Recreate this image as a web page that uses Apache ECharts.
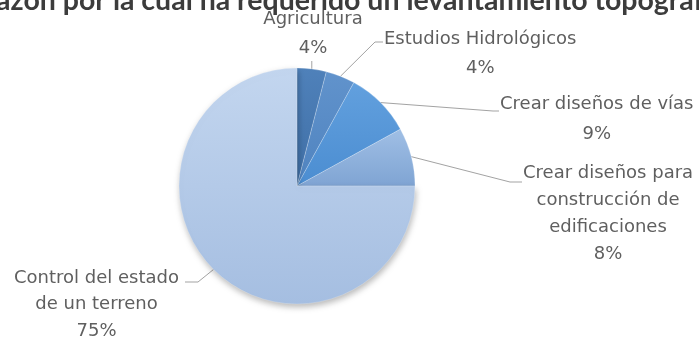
<!DOCTYPE html>
<html>
<head>
<meta charset="utf-8">
<script src="https://cdn.jsdelivr.net/npm/echarts@6/dist/echarts.min.js"></script>
<style>
  html, body { margin: 0; padding: 0; background: #ffffff; }
  #chart { width: 699px; height: 342px; }
</style>
</head>
<body>
<div id="chart"></div>
<script>
// Survey answers: reason a topographic survey was required
const chartTitle = 'Razón por la cual ha requerido un levantamiento topográfico';
const categories = [
  'Agricultura',
  'Estudios Hidrológicos',
  'Crear diseños de vías',
  'Crear diseños para\nconstrucción de\nedificaciones',
  'Control del estado\nde un terreno'
];
const shares = [4, 4, 9, 8, 75];

// Slice fills, light top to darker bottom
const fillTop    = ['#4f81ba', '#6193cc', '#62a0de', '#a0bfe5', '#c3d6ef'];
const fillBottom = ['#3f6fa6', '#4f83bf', '#4b8dd1', '#7fa4d3', '#a5bee1'];

// Label block placement: anchor, alignment, line height, leader bend points
const labelPlacement = [
  { x: 313, y: 4.5, align: 'center', lh: 29, bend: null },
  { x: 384, y: 24.5, align: 'left', lh: 29, bend: [[375, 42], [383, 42]] },
  { x: 500, y: 89, align: 'left', lh: 30, bend: [[493, 111], [499, 111]] },
  { x: 523, y: 160, align: 'left', lh: 27, bend: [[510, 182], [522, 182]] },
  { x: 179, y: 265, align: 'right', lh: 26.5, bend: [[198, 282], [185, 282]] }
];

const textColor = '#5f5f5f';
const labelFont = 'DejaVu Sans';
const titleFont = 'Lato';

const rich = {};
labelPlacement.forEach(function (p, i) {
  rich['t' + i] = {
    fontFamily: labelFont, fontSize: 18, color: textColor,
    lineHeight: p.lh, align: 'center'
  };
});

const pieData = categories.map(function (name, i) {
  const item = {
    name: name,
    value: shares[i],
    itemStyle: {
      color: new echarts.graphic.LinearGradient(0, 0, 0, 1, [
        { offset: 0, color: fillTop[i] },
        { offset: 1, color: fillBottom[i] }
      ])
    }
  };
  if (i === categories.length - 1) {
    item.itemStyle.shadowBlur = 6;
    item.itemStyle.shadowOffsetX = 1;
    item.itemStyle.shadowOffsetY = 3;
    item.itemStyle.shadowColor = 'rgba(0,0,0,0.28)';
  }
  return item;
});

const chart = echarts.init(document.getElementById('chart'), null, { renderer: 'canvas' });

chart.setOption({
  animation: false,
  backgroundColor: '#ffffff',
  title: {
    text: chartTitle,
    left: -27,
    top: -18,
    textStyle: {
      fontFamily: titleFont,
      fontWeight: 'bold',
      fontSize: 28.5,
      lineHeight: 28,
      color: '#3c3c3c'
    }
  },
  series: [{
    type: 'pie',
    center: [297, 186],
    radius: 118,
    startAngle: 90,
    clockwise: true,
    avoidLabelOverlap: false,
    data: pieData,
    itemStyle: {
      borderColor: 'rgba(255,255,255,0.35)',
      borderWidth: 0.6
    },
    label: {
      show: true,
      position: 'outside',
      formatter: function (params) {
        const key = 't' + params.dataIndex;
        const lines = params.name.split('\n').concat([Math.round(params.percent) + '%']);
        return lines.map(function (s) { return '{' + key + '|' + s + '}'; }).join('\n');
      },
      rich: rich
    },
    labelLine: {
      show: true,
      smooth: false,
      lineStyle: { color: '#a3a3a3', width: 1 }
    },
    labelLayout: function (params) {
      const p = labelPlacement[params.dataIndex];
      const start = params.labelLinePoints ? params.labelLinePoints[0] : null;
      const out = {
        x: p.x,
        y: p.y,
        align: p.align,
        verticalAlign: 'top'
      };
      if (start) {
        if (p.bend) {
          out.labelLinePoints = [start, p.bend[0], p.bend[1]];
        } else {
          out.labelLinePoints = [start, [start[0], 61], [start[0], 61]];
        }
      }
      return out;
    }
  }]
});
</script>
</body>
</html>
